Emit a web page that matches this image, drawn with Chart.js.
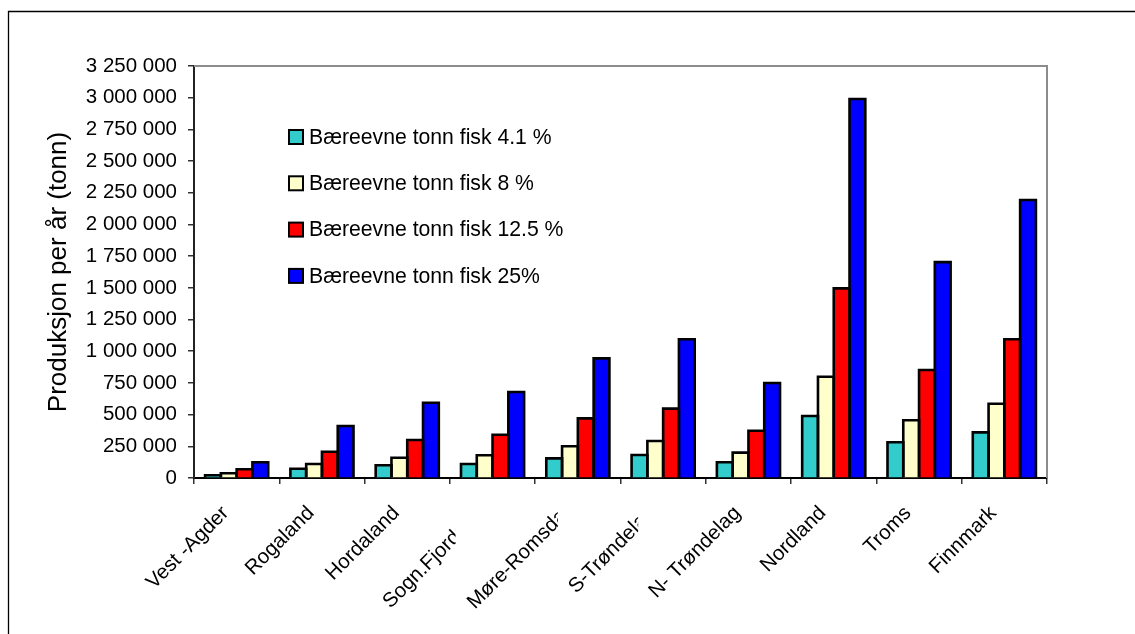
<!DOCTYPE html>
<html lang="no">
<head>
<meta charset="utf-8">
<title>Produksjon per år</title>
<script src="https://cdn.jsdelivr.net/npm/chart.js@4"></script>
<style>
  html, body { margin: 0; padding: 0; background: #fff; }
  #wrap { width: 1135px; height: 634px; }
</style>
</head>
<body>
<div id="wrap"><canvas id="c" width="1135" height="634"></canvas></div>
<script>
// Fylker (kategorier på x-aksen)
const categories = ['Vest -Agder', 'Rogaland', 'Hordaland', 'Sogn.Fjordane', 'Møre-Romsdal',
                    'S-Trøndelag', 'N- Trøndelag', 'Nordland', 'Troms', 'Finnmark'];

// Bæreevne, tonn fisk per år
const seriesLabels = ['Bæreevne tonn fisk 4.1 %', 'Bæreevne tonn fisk 8 %',
                      'Bæreevne tonn fisk 12.5 %', 'Bæreevne tonn fisk 25%'];
const cap41  = [22000, 73000, 100000, 110000, 155000, 181000, 124000, 489000, 282000, 360000];
const cap8   = [37000, 110000, 160000, 179000, 250000, 292000, 200000, 799000, 455000, 586000];
const cap125 = [69000, 207000, 300000, 341000, 470000, 547000, 373000, 1496000, 852000, 1094000];
const cap25  = [124000, 410000, 594000, 678000, 944000, 1094000, 749000, 2990000, 1703000, 2193000];

// Y-akse
const yMin = 0, yMax = 3250000, yStep = 250000;
const yTitle = 'Produksjon per år (tonn)';

const colors = ['#33CCCC', '#FFFFCC', '#FF0000', '#0000FF'];
const FONT = '"Liberation Sans", Arial, sans-serif';

// Plot area frame
const AREA = { left: 194, top: 66, right: 1047, bottom: 478 };

function fmt(v) {
  return String(Math.round(v)).replace(/\B(?=(\d{3})+(?!\d))/g, ' ');
}

// Outer chart frame (left and top edges visible)
const framePlugin = {
  id: 'frame',
  beforeDraw(chart) {
    const ctx = chart.ctx;
    ctx.save();
    ctx.fillStyle = '#fff';
    ctx.fillRect(0, 0, chart.width, chart.height);
    ctx.strokeStyle = '#000';
    ctx.lineWidth = 1.3;
    ctx.beginPath();
    ctx.moveTo(8.5, chart.height + 2);
    ctx.lineTo(8.5, 11.5);
    ctx.lineTo(chart.width + 2, 11.5);
    ctx.stroke();
    ctx.restore();
  },
  afterDatasetsDraw(chart) {
    const { ctx, chartArea: a } = chart;
    ctx.save();
    // black outlines centred on each bar's edges, so neighbouring bars share one line
    ctx.strokeStyle = '#000';
    ctx.lineWidth = 2.6;
    ctx.lineJoin = 'miter';
    chart.data.datasets.forEach((d, i) => {
      chart.getDatasetMeta(i).data.forEach((bar) => {
        const p = bar.getProps(['x', 'y', 'base', 'width'], true);
        const x0 = p.x - p.width / 2;
        ctx.beginPath();
        ctx.moveTo(x0, p.base);
        ctx.lineTo(x0, p.y);
        ctx.lineTo(x0 + p.width, p.y);
        ctx.lineTo(x0 + p.width, p.base);
        ctx.stroke();
      });
    });
    // grey top and right border of the plot area
    ctx.strokeStyle = '#8c8c8c';
    ctx.lineWidth = 2;
    ctx.beginPath();
    ctx.moveTo(a.left, a.top);
    ctx.lineTo(a.right, a.top);
    ctx.lineTo(a.right, a.bottom);
    ctx.stroke();
    ctx.restore();
  }
};

// Legend drawn inside the plot area
const legendPlugin = {
  id: 'innerLegend',
  afterDraw(chart, args, opts) {
    const ctx = chart.ctx;
    ctx.save();
    ctx.font = `${opts.fontSize}px ${FONT}`;
    ctx.textBaseline = 'middle';
    ctx.textAlign = 'left';
    chart.data.datasets.forEach((ds, i) => {
      const y = opts.y + i * opts.gap;
      ctx.fillStyle = ds.backgroundColor;
      ctx.fillRect(opts.x, y - opts.box / 2, opts.box, opts.box);
      ctx.strokeStyle = '#000';
      ctx.lineWidth = 2;
      ctx.strokeRect(opts.x, y - opts.box / 2, opts.box, opts.box);
      ctx.fillStyle = '#000';
      ctx.fillText(ds.label, opts.x + opts.box + 6, y + 1);
    });
    ctx.restore();
  }
};

// Rotated category labels (long names are cut off at a fixed edge)
const xLabelPlugin = {
  id: 'xLabels',
  afterDraw(chart, args, opts) {
    const ctx = chart.ctx;
    const sc = chart.scales.x;
    ctx.save();
    ctx.font = `${opts.fontSize}px ${FONT}`;
    ctx.fillStyle = '#000';
    ctx.textAlign = 'right';
    ctx.textBaseline = 'middle';
    chart.data.labels.forEach((lab, i) => {
      const x = sc.getPixelForTick(i) + opts.dx;
      const y = sc.top + opts.dy;
      ctx.save();
      const cut = opts.cut[i];
      if (cut != null) {
        ctx.beginPath();
        ctx.rect(0, 0, sc.getPixelForTick(i) + cut, chart.height);
        ctx.clip();
      }
      ctx.translate(x, y);
      ctx.rotate(-Math.PI / 4);
      ctx.fillText(lab, 0, 0);
      ctx.restore();
    });
    ctx.restore();
  }
};

const ds = [cap41, cap8, cap125, cap25].map((values, i) => ({
  label: seriesLabels[i],
  data: values,
  backgroundColor: colors[i],
  borderWidth: 0,
  inflateAmount: 0,
  barPercentage: 1,
  categoryPercentage: 0.74
}));

new Chart(document.getElementById('c'), {
  type: 'bar',
  data: { labels: categories, datasets: ds },
  options: {
    responsive: false,
    animation: false,
    devicePixelRatio: 1,
    datasets: { bar: { barPercentage: 1, categoryPercentage: 0.74 } },
    layout: { padding: { left: 20, top: AREA.top, right: 1135 - AREA.right, bottom: 0 } },
    plugins: {
      legend: { display: false },
      tooltip: { enabled: false },
      innerLegend: { x: 289, y: 137, gap: 46.3, box: 14, fontSize: 21.2 },
      xLabels: { fontSize: 20.5, dx: -11, dy: 32,
                 cut: [null, null, null, -37, -20, -25, null, null, null, null] }
    },
    scales: {
      x: {
        grid: { offset: true, drawOnChartArea: false, drawTicks: true, tickLength: 6,
                color: '#333', lineWidth: 1.5 },
        border: { color: '#000', width: 2 },
        ticks: { display: false },
        afterFit(s) { s.height = 634 - AREA.bottom; }
      },
      y: {
        min: yMin, max: yMax,
        grid: { drawOnChartArea: false, drawTicks: true, tickLength: 6,
                color: '#333', lineWidth: 1.5 },
        border: { color: '#222', width: 2 },
        ticks: {
          stepSize: yStep,
          color: '#000',
          padding: 11,
          font: { family: FONT, size: 20.5 },
          callback: (v) => fmt(v)
        },
        title: {
          display: true,
          text: yTitle,
          color: '#000',
          font: { family: FONT, size: 26 },
          padding: { top: 23, bottom: 0 }
        },
        afterFit(s) { s.width = AREA.left - 20; }
      }
    }
  },
  plugins: [framePlugin, legendPlugin, xLabelPlugin]
});
</script>
</body>
</html>
